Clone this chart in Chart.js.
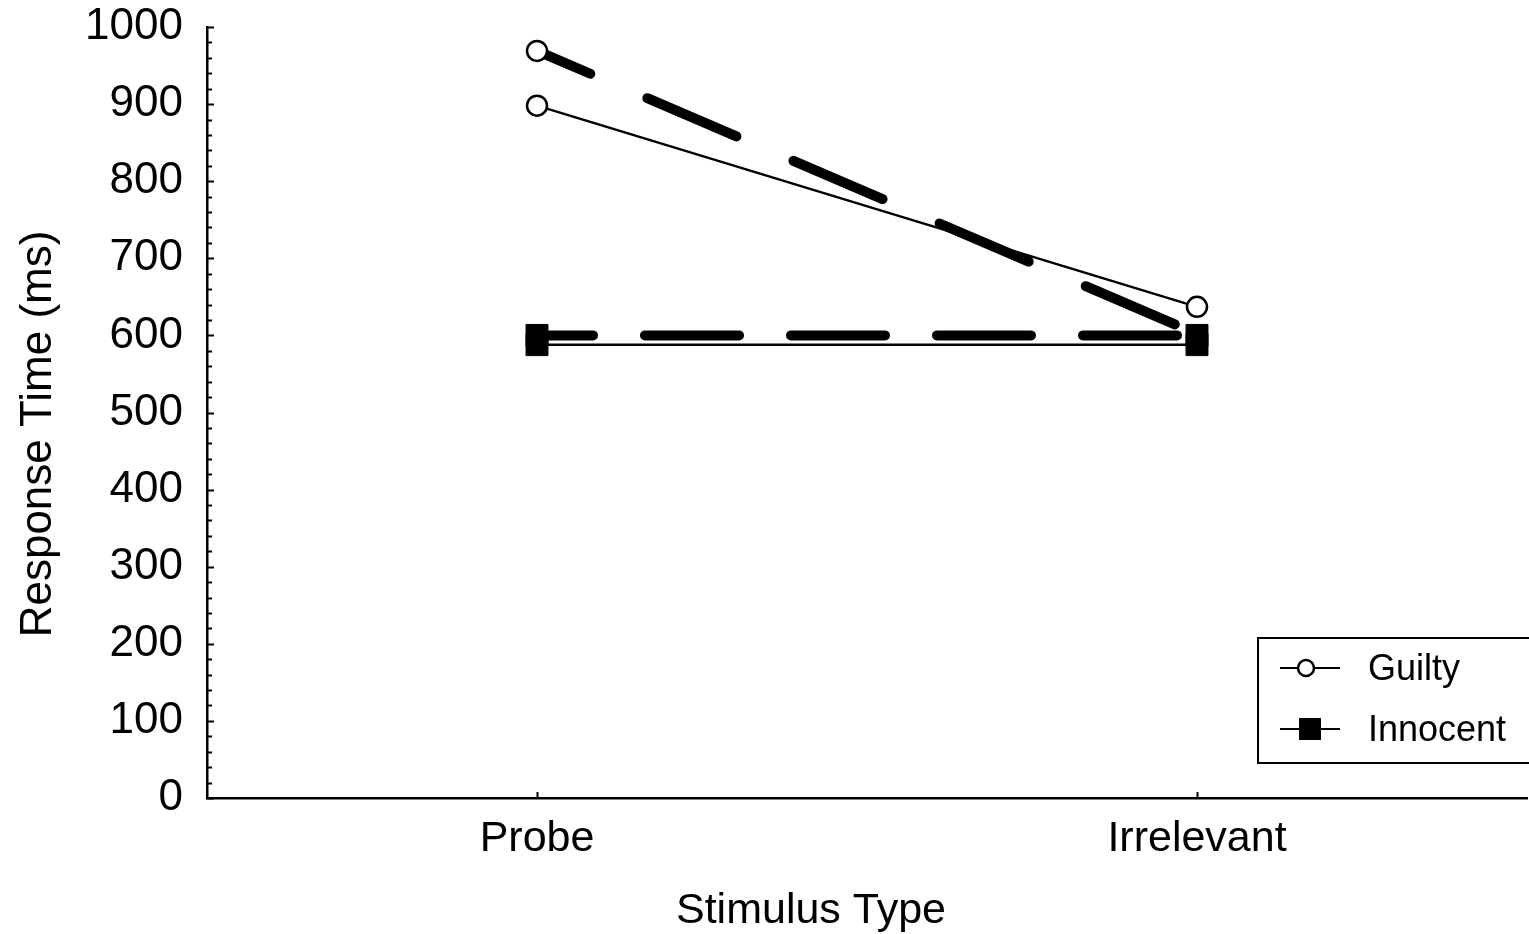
<!DOCTYPE html>
<html>
<head>
<meta charset="utf-8">
<script src="https://cdn.jsdelivr.net/npm/chart.js@4.4.1/dist/chart.umd.min.js"></script>
<style>
  html, body { margin: 0; padding: 0; background: #fff; }
  #wrap { width: 1529px; height: 934px; position: relative; }
</style>
</head>
<body>
<div id="wrap"><canvas id="c" width="1529" height="934"></canvas></div>
<script>
// ---- data ----
const categories = ['Probe', 'Irrelevant'];
const guiltySolid = [898, 637];
const guiltyDashed = [969, 602];
const innocentSolid = [588, 588];
const innocentDashed = [600, 600];
const yTicks = [0, 100, 200, 300, 400, 500, 600, 700, 800, 900, 1000];
const legendLabels = ['Guilty', 'Innocent'];
const xTitle = 'Stimulus Type';
const yTitle = 'Response Time (ms)';

const FONT = '"Liberation Sans", Arial, Helvetica, sans-serif';

const customDraw = {
  id: 'customDraw',
  afterDraw(chart) {
    const ctx = chart.ctx;
    const ys = chart.scales.y, xs = chart.scales.x;
    const area = chart.chartArea;
    ctx.save();
    ctx.strokeStyle = '#000';
    ctx.lineWidth = 2;
    for (let v = 0; v <= 1000; v += 20) {
      const py = Math.round(ys.getPixelForValue(v)) + 0.5;
      const len = (v % 100 === 0) ? 7 : 5;
      ctx.beginPath();
      ctx.moveTo(area.left, py);
      ctx.lineTo(area.left + len, py);
      ctx.stroke();
    }
    categories.forEach((c, i) => {
      const px = Math.round(xs.getPixelForValue(i)) + 0.5;
      ctx.beginPath();
      ctx.moveTo(px, area.bottom);
      ctx.lineTo(px, area.bottom - 6);
      ctx.stroke();
    });
    ctx.fillStyle = '#000';
    ctx.font = '43px ' + FONT;
    ctx.textAlign = 'center';
    ctx.textBaseline = 'alphabetic';
    ctx.fillText(xTitle, 811, 923);
    ctx.save();
    ctx.translate(51, 434);
    ctx.rotate(-Math.PI / 2);
    ctx.font = '44px ' + FONT;
    ctx.fillText(yTitle, 0, 0);
    ctx.restore();
    // legend
    const bx = 1258, by = 638, bw = 300, bh = 125;
    ctx.lineWidth = 2;
    ctx.strokeRect(bx, by, bw, bh);
    const rows = [668, 729];
    ctx.font = '36px ' + FONT;
    ctx.textAlign = 'left';
    ctx.textBaseline = 'middle';
    rows.forEach((ry, i) => {
      ctx.lineWidth = 2;
      ctx.beginPath();
      ctx.moveTo(1280, ry);
      ctx.lineTo(1340, ry);
      ctx.stroke();
      if (i === 0) {
        ctx.beginPath();
        ctx.arc(1306, ry, 8, 0, Math.PI * 2);
        ctx.fillStyle = '#fff';
        ctx.fill();
        ctx.lineWidth = 2.5;
        ctx.stroke();
      } else {
        ctx.fillStyle = '#000';
        ctx.fillRect(1299, ry - 11, 22, 22);
      }
      ctx.fillStyle = '#000';
      ctx.fillText(legendLabels[i], 1368, ry + 2);
    });
    ctx.restore();
  }
};

function zeroPad(s) { s.paddingTop = 0; s.paddingBottom = 0; s.paddingLeft = 0; s.paddingRight = 0; }

new Chart(document.getElementById('c'), {
  type: 'line',
  data: {
    labels: categories,
    datasets: [
      {
        label: 'Innocent dashed', data: innocentDashed, order: 0,
        borderColor: '#000', borderWidth: 10, borderDash: [94, 52], borderDashOffset: 38,
        borderCapStyle: 'round', pointStyle: 'rect', pointRadius: 15.5,
        pointBackgroundColor: '#000', pointBorderColor: '#000', pointBorderWidth: 1, tension: 0
      },
      {
        label: 'Innocent solid', data: innocentSolid, order: 1,
        borderColor: '#000', borderWidth: 2.5,
        pointStyle: 'rect', pointRadius: 15.5,
        pointBackgroundColor: '#000', pointBorderColor: '#000', pointBorderWidth: 1, tension: 0
      },
      {
        label: 'Guilty solid', data: guiltySolid, order: 2,
        borderColor: '#000', borderWidth: 2.5,
        pointStyle: 'circle', pointRadius: 10,
        pointBackgroundColor: '#fff', pointBorderColor: '#000', pointBorderWidth: 2.5, tension: 0
      },
      {
        label: 'Guilty dashed', data: guiltyDashed, order: 3,
        borderColor: '#000', borderWidth: 10, borderDash: [97, 62], borderDashOffset: 39,
        borderCapStyle: 'round', pointStyle: 'circle', pointRadius: [10, 0],
        pointBackgroundColor: '#fff', pointBorderColor: '#000', pointBorderWidth: 2.5, tension: 0
      }
    ]
  },
  options: {
    responsive: false,
    animation: false,
    events: [],
    layout: { autoPadding: false, padding: { top: 27, right: 2, left: 0, bottom: 0 } },
    plugins: { legend: { display: false }, tooltip: { enabled: false }, title: { display: false } },
    scales: {
      x: {
        type: 'category',
        offset: true,
        grid: { display: false, drawTicks: false },
        border: { display: true, color: '#000', width: 2.5 },
        ticks: { color: '#000', font: { family: FONT, size: 43 }, padding: 15 },
        afterFit(s) { s.height = 136; zeroPad(s); }
      },
      y: {
        min: 0, max: 1000,
        grid: { display: false, drawTicks: false },
        border: { display: true, color: '#000', width: 2.5 },
        afterBuildTicks(s) { s.ticks = yTicks.map(v => ({ value: v })); },
        ticks: { color: '#000', font: { family: FONT, size: 44 }, padding: 24, callback: v => String(v) },
        afterFit(s) { s.width = 207; zeroPad(s); }
      }
    }
  },
  plugins: [customDraw]
});
</script>
</body>
</html>
